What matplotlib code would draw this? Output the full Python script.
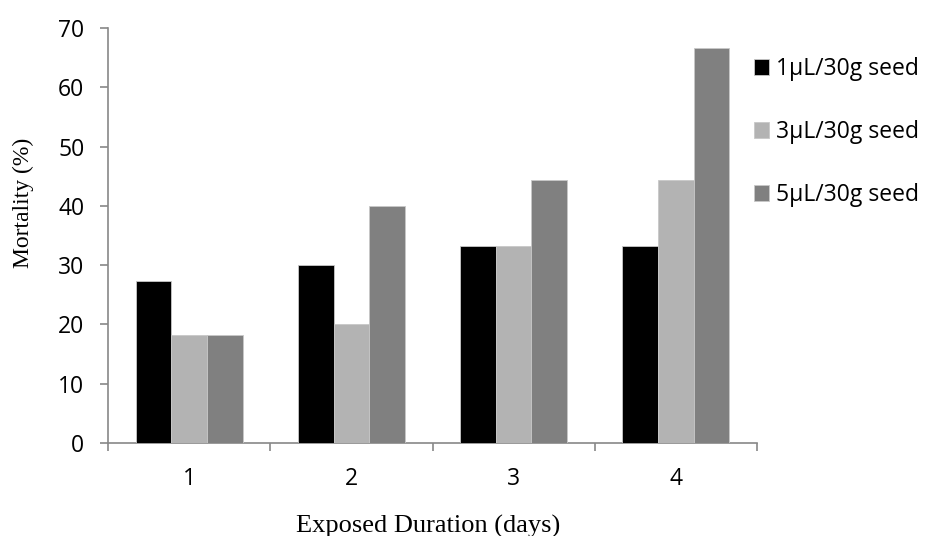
import numpy as np
import matplotlib.pyplot as plt

# Mortality (%) by exposure day and dose
days = ["1", "2", "3", "4"]
series = ["1µL/30g seed", "3µL/30g seed", "5µL/30g seed"]
dose1 = [27.3, 30.0, 33.3, 33.3]
dose3 = [18.2, 20.0, 33.3, 44.4]
dose5 = [18.2, 40.0, 44.4, 66.7]
colors = ["#000000", "#b3b3b3", "#808080"]

fig = plt.figure(figsize=(9.25, 5.36), dpi=100)
ax = fig.add_axes([108 / 925, 1 - 443 / 536, (757 - 108) / 925, (443 - 28) / 536])

x = np.arange(len(days))
w = 0.22
for i, (vals, lab) in enumerate(zip([dose1, dose3, dose5], series)):
    ax.bar(x + (i - 1) * w, vals, width=w, color=colors[i], label=lab,
           edgecolor="#c8c8c8", linewidth=0.6, zorder=3)

ax.set_xlim(-0.5, len(days) - 0.5)
ax.set_ylim(0, 70)
ax.set_yticks(range(0, 71, 10))

tick_font = "Open Sans"
fs = 16.5
ax.set_xticks(x)
ax.set_xticklabels(days, family=tick_font, fontsize=fs)
ax.tick_params(axis="x", length=0, pad=17)
ax.set_xticks(np.arange(-0.5, len(days)), minor=True)
ax.tick_params(axis="x", which="minor", length=6, width=1.2, color="#888888", direction="out")
ax.tick_params(axis="y", length=6, width=1.2, color="#888888", direction="out", pad=11)
for t in ax.get_yticklabels():
    t.set_family(tick_font)
    t.set_fontsize(fs)

for s in ["top", "right"]:
    ax.spines[s].set_visible(False)
for s in ["left", "bottom"]:
    ax.spines[s].set_color("#888888")
    ax.spines[s].set_linewidth(1.2)

fig.text(428 / 925, 1 - 526 / 536, "Exposed Duration (days)", ha="center", va="center",
         family="Liberation Serif", fontsize=19)
fig.text(23 / 925, 1 - 203 / 536, "Mortality (%)", ha="center", va="center",
         rotation=90, family="Liberation Serif", fontsize=17)

leg = ax.legend(loc="upper left", bbox_to_anchor=(754 / 925, 1 - 57 / 536),
                bbox_transform=fig.transFigure, frameon=False, borderpad=0, borderaxespad=0,
                prop={"family": tick_font, "size": fs}, handlelength=0.65, handleheight=0.65,
                handletextpad=0.3, labelspacing=1.7)

fig.savefig("out.png", dpi=100)
